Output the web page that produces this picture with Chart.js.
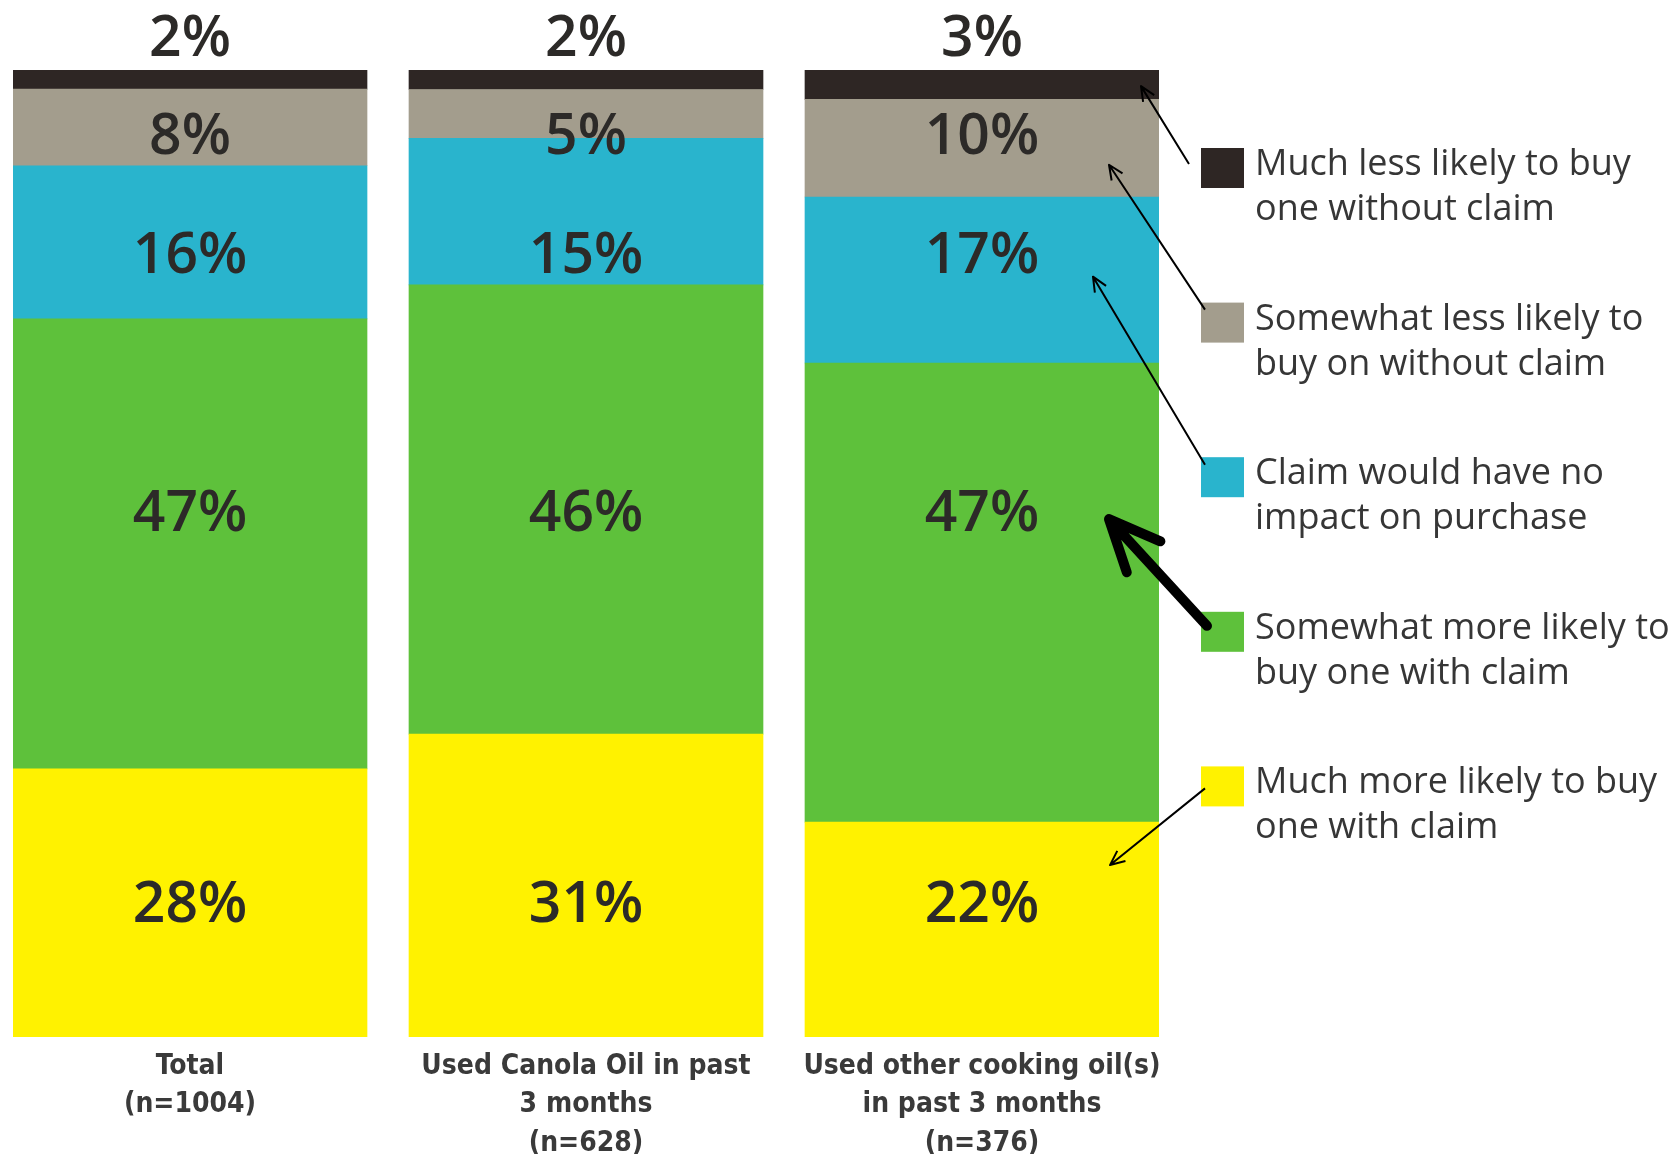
<!DOCTYPE html>
<html>
<head>
<meta charset="utf-8">
<script src="https://cdn.jsdelivr.net/npm/chart.js@4.4.1/dist/chart.umd.min.js"></script>
<style>
  html, body { margin: 0; padding: 0; background: #fff; }
  canvas { display: block; }
</style>
</head>
<body>
<canvas id="chart" width="1680" height="1154"></canvas>
<script>
// categories (multi-line tick labels under each bar)
const groups = [
  ["Total", "(n=1004)"],
  ["Used Canola Oil in past", "3 months", "(n=628)"],
  ["Used other cooking oil(s)", "in past 3 months", "(n=376)"]
];

// series values in %, bottom of the stack first
const muchMore = [28, 31, 22];
const somewhatMore = [47, 46, 47];
const noImpact = [16, 15, 17];
const somewhatLess = [8, 5, 10];
const muchLess = [2, 2, 3];

const seriesLabels = [
  ["Much more likely to buy", "one with claim"],
  ["Somewhat more likely to", "buy one with claim"],
  ["Claim would have no", "impact on purchase"],
  ["Somewhat less likely to", "buy on without claim"],
  ["Much less likely to buy", "one without claim"]
];
const seriesValues = [muchMore, somewhatMore, noImpact, somewhatLess, muchLess];
const seriesColors = ["#fff200", "#5ec13b", "#29b4cd", "#a39d8d", "#2e2624"];

// each bar is drawn as a 100% stack
const totals = groups.map((g, i) => seriesValues.reduce((s, arr) => s + arr[i], 0));

const datasets = seriesValues.map((vals, k) => ({
  label: seriesLabels[k].join(" "),
  data: vals.map((v, i) => ({ x: i, y: v / totals[i] * 100 })),
  raw: vals,
  backgroundColor: seriesColors[k],
  borderWidth: 0,
  barThickness: 354
}));

// label row tweaks (px) per series, bottom first
const labelShift = [0, -34, 12, 8, 3];
// arrow tips inside the third bar: [px from right edge, fraction down the segment]
const arrowTips = [[49, 0.2], [50, 0.34], [66, 0.48], [50, 0.67], [18, 0.55]];
// arrow tails relative to the legend swatch [dx, dy]
const arrowTails = [[4, 22], [6, 14], [4, 7.5], [4, 7], [-12, 16]];

function drawArrow(ctx, x1, y1, x2, y2, width, head) {
  const a = Math.atan2(y2 - y1, x2 - x1);
  const spread = 0.42;
  ctx.save();
  ctx.strokeStyle = "#000";
  ctx.lineWidth = width;
  ctx.lineCap = width > 4 ? "round" : "butt";
  ctx.lineJoin = "round";
  ctx.beginPath();
  ctx.moveTo(x1, y1);
  ctx.lineTo(x2, y2);
  ctx.moveTo(x2 - head * Math.cos(a - spread), y2 - head * Math.sin(a - spread));
  ctx.lineTo(x2, y2);
  ctx.lineTo(x2 - head * Math.cos(a + spread), y2 - head * Math.sin(a + spread));
  ctx.stroke();
  ctx.restore();
}

const annotations = {
  id: "annotations",
  afterDatasetsDraw(chart) {
    const ctx = chart.ctx;
    const area = chart.chartArea;
    const top = datasets.length - 1;

    // value labels
    ctx.save();
    ctx.font = "600 57px 'Open Sans'";
    ctx.fillStyle = "#2c2a28";
    ctx.textAlign = "center";
    ctx.textBaseline = "middle";
    datasets.forEach((ds, k) => {
      const els = chart.getDatasetMeta(k).data;
      const centers = els.map(el => (el.y + el.base) / 2);
      const rowY = centers.reduce((s, c) => s + c, 0) / centers.length + labelShift[k];
      els.forEach((el, i) => {
        const y = k === top ? Math.min(el.y, el.base) - 30 : rowY;
        ctx.fillText(ds.raw[i] + "%", el.x, y);
      });
    });
    ctx.restore();

    // legend, top series first
    const swX = area.right + 42;
    ctx.save();
    ctx.font = "36px 'Open Sans'";
    ctx.textAlign = "left";
    ctx.textBaseline = "alphabetic";
    for (let r = 0; r < datasets.length; r++) {
      const k = top - r;
      const swY = 148 + r * 154.6;
      ctx.fillStyle = seriesColors[k];
      ctx.fillRect(swX, swY, 43, 40);
      ctx.fillStyle = "#363636";
      seriesLabels[k].forEach((line, j) => ctx.fillText(line, swX + 54, swY + 27 + j * 45));

      const el = chart.getDatasetMeta(k).data[2];
      const segTop = Math.min(el.y, el.base);
      const segH = Math.abs(el.base - el.y);
      const tipX = el.x + el.width / 2 - arrowTips[k][0];
      const tipY = segTop + segH * arrowTips[k][1];
      const thick = k === 1;
      drawArrow(ctx, swX + arrowTails[k][0], swY + arrowTails[k][1], tipX, tipY,
        thick ? 10 : 2, thick ? 56 : 16);
    }
    ctx.restore();
  }
};

new Chart(document.getElementById("chart"), {
  type: "bar",
  data: { datasets },
  options: {
    responsive: false,
    animation: false,
    layout: { padding: { left: 13, top: 70, right: 521, bottom: 0 } },
    scales: {
      x: {
        type: "linear",
        stacked: true,
        offset: false,
        min: -0.447,
        max: 2.447,
        grid: { display: false, drawTicks: false },
        border: { display: false },
        afterBuildTicks: scale => { scale.ticks = groups.map((g, i) => ({ value: i })); },
        afterFit: scale => { scale.height = 117; },
        ticks: {
          autoSkip: false,
          maxRotation: 0,
          padding: 10,
          color: "#3a3a3a",
          font: { family: "'DejaVu Sans', sans-serif", size: 28, weight: "bold condensed", lineHeight: 1.38 },
          callback: value => groups[value]
        }
      },
      y: {
        stacked: true,
        display: false,
        min: 0,
        max: 100
      }
    },
    plugins: {
      legend: { display: false },
      tooltip: { enabled: false }
    }
  },
  plugins: [annotations]
});
</script>
</body>
</html>
